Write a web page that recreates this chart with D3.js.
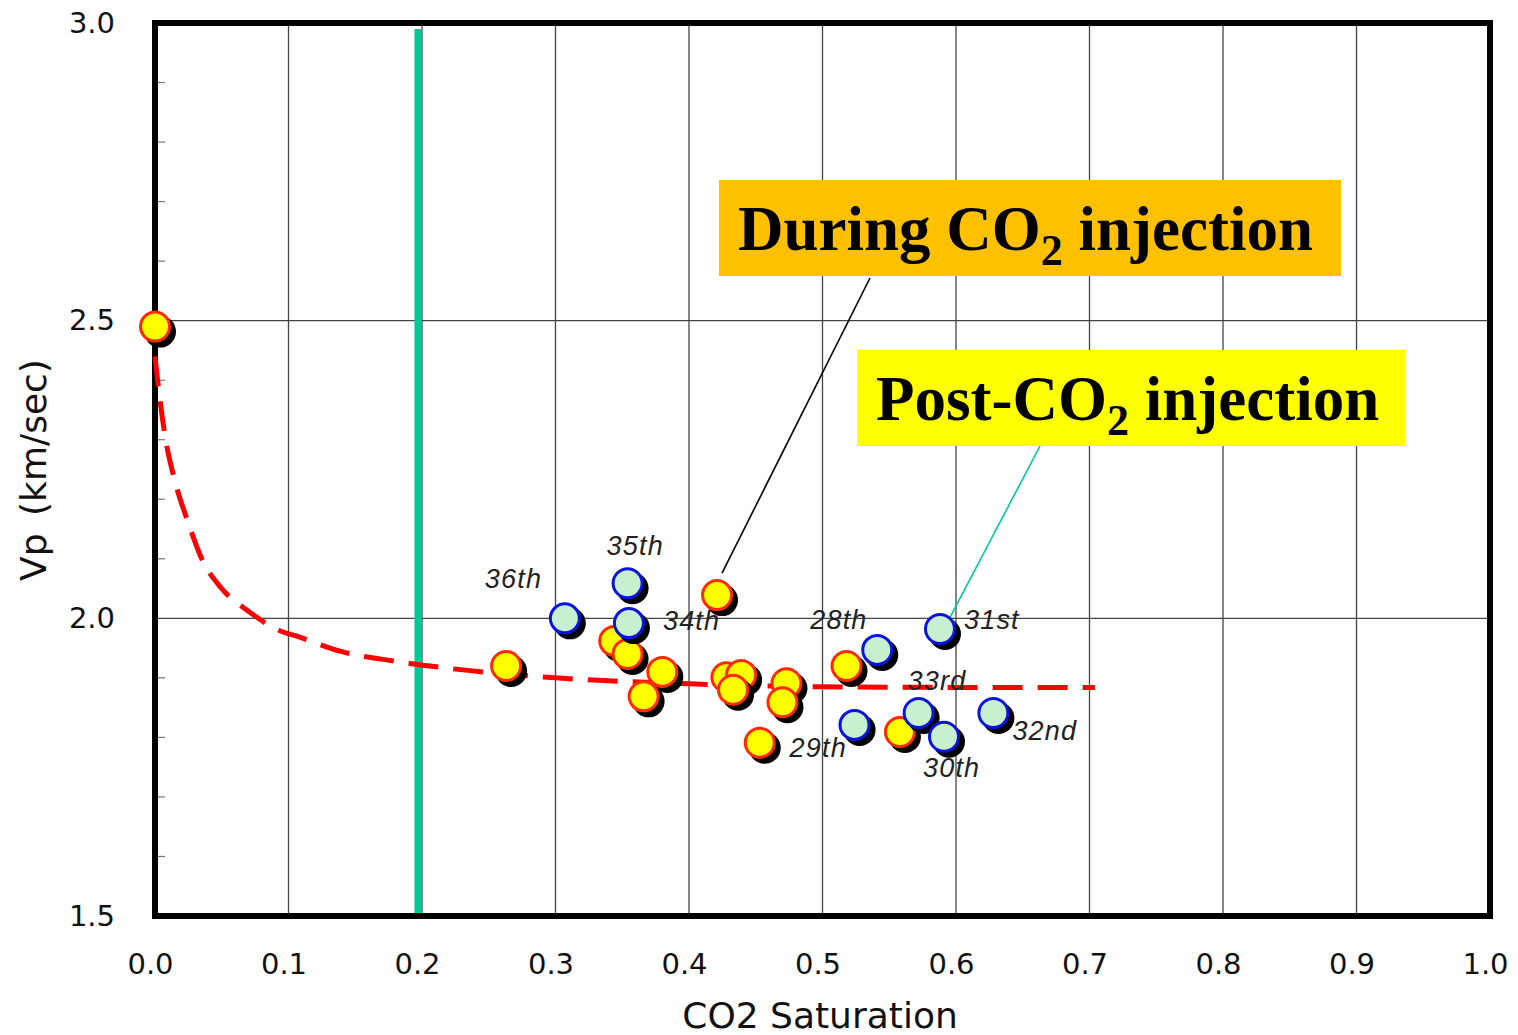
<!DOCTYPE html>
<html>
<head>
	<meta charset="utf-8">
	<title>Vp vs CO2 Saturation</title>
	<script type="text/javascript" src="https://cdn.jsdelivr.net/npm/d3@7/dist/d3.min.js"></script>
	<style>
		body { margin: 0; background: #fff; }
	</style>
</head>
<body>
	<script type="text/javascript">
		// data
		var xTicks = [0.0, 0.1, 0.2, 0.3, 0.4, 0.5, 0.6, 0.7, 0.8, 0.9, 1.0];
		var yTicks = [1.5, 2.0, 2.5, 3.0];
		var yMinor = [1.6, 1.7, 1.8, 1.9, 2.1, 2.2, 2.3, 2.4, 2.6, 2.7, 2.8, 2.9];

		// during CO2 injection (yellow)
		var duringS  = [0.000, 0.263, 0.421, 0.344, 0.354, 0.380, 0.366, 0.428, 0.439, 0.433, 0.473, 0.470, 0.453, 0.518, 0.558];
		var duringVp = [2.490, 1.920, 2.039, 1.962, 1.940, 1.910, 1.869, 1.901, 1.905, 1.880, 1.891, 1.859, 1.791, 1.920, 1.809];

		// post CO2 injection (blue), with survey labels
		var postLabels = ["36th", "35th", "34th", "28th", "31st", "33rd", "32nd", "29th", "30th"];
		var postS  = [0.307, 0.354, 0.355, 0.541, 0.588, 0.572, 0.628, 0.524, 0.591];
		var postVp = [2.000, 2.059, 1.992, 1.947, 1.982, 1.841, 1.841, 1.821, 1.801];

		// model curve (red dashed)
		var curveS  = [0.000, 0.003, 0.008, 0.015, 0.025, 0.035, 0.050, 0.070, 0.090, 0.110, 0.140, 0.180, 0.220, 0.300, 0.400, 0.500, 0.600, 0.704];
		var curveVp = [2.440, 2.380, 2.300, 2.230, 2.160, 2.100, 2.050, 2.012, 1.983, 1.967, 1.944, 1.928, 1.916, 1.900, 1.890, 1.885, 1.884, 1.884];

		var thresholdS = 0.197;

		var width = 1518, height = 1035;
		// plot box edges (window.top is reserved, so prefix them)
		var pLeft = 155, pRight = 1490, pTop = 23, pBottom = 916;

		var svg = d3.select("body").append("svg")
			.attr("width", width)
			.attr("height", height);

		var x = d3.scaleLinear().domain([0, 1]).range([pLeft, pRight]);
		var y = d3.scaleLinear().domain([1.5, 3.0]).range([pBottom, pTop]);

		// grid
		svg.append("g").selectAll("line")
			.data(xTicks.slice(1, -1))
			.enter().append("line")
			.attr("x1", function(d){ return x(d); })
			.attr("x2", function(d){ return x(d); })
			.attr("y1", pTop).attr("y2", pBottom)
			.attr("stroke", "#444").attr("stroke-width", 1.3);
		svg.append("g").selectAll("line")
			.data([2.0, 2.5])
			.enter().append("line")
			.attr("x1", pLeft).attr("x2", pRight)
			.attr("y1", function(d){ return y(d); })
			.attr("y2", function(d){ return y(d); })
			.attr("stroke", "#444").attr("stroke-width", 1.3);

		// minor ticks inside the left axis
		svg.append("g").selectAll("line")
			.data(yMinor)
			.enter().append("line")
			.attr("x1", pLeft).attr("x2", pLeft + 10)
			.attr("y1", function(d){ return y(d); })
			.attr("y2", function(d){ return y(d); })
			.attr("stroke", "#777").attr("stroke-width", 1.2);

		// green threshold line
		svg.append("line")
			.attr("x1", x(thresholdS)).attr("x2", x(thresholdS))
			.attr("y1", pTop + 6).attr("y2", pBottom)
			.attr("stroke", "#00c996").attr("stroke-width", 7);

		// frame
		svg.append("rect")
			.attr("x", pLeft).attr("y", pTop)
			.attr("width", pRight - pLeft).attr("height", pBottom - pTop)
			.attr("fill", "none").attr("stroke", "#000").attr("stroke-width", 6);

		// axes labels through d3 axes
		var xAxis = svg.append("g")
			.attr("transform", "translate(0," + pBottom + ")")
			.call(d3.axisBottom(x).tickValues(xTicks).tickFormat(d3.format(".1f")).tickSize(0).tickPadding(37));
		var yAxis = svg.append("g")
			.attr("transform", "translate(" + pLeft + ",0)")
			.call(d3.axisLeft(y).tickValues(yTicks).tickFormat(d3.format(".1f")).tickSize(0).tickPadding(40));
		[xAxis, yAxis].forEach(function(g){
			g.select(".domain").remove();
			g.selectAll("text")
				.attr("fill", "#111")
				.style("font-family", "DejaVu Sans")
				.style("font-size", "29px");
		});
		xAxis.selectAll("text").attr("dx", -5);

		svg.append("text")
			.attr("x", 820).attr("y", 1028)
			.attr("text-anchor", "middle")
			.style("font-family", "DejaVu Sans").style("font-size", "36px")
			.attr("fill", "#111")
			.text("CO2 Saturation");
		svg.append("text")
			.attr("transform", "translate(46,470) rotate(-90)")
			.attr("text-anchor", "middle")
			.style("font-family", "DejaVu Sans").style("font-size", "36px")
			.style("word-spacing", "6px")
			.attr("fill", "#111")
			.text("Vp (km/sec)");

		// red dashed curve
		var line = d3.line()
			.x(function(d){ return x(d[0]); })
			.y(function(d){ return y(d[1]); })
			.curve(d3.curveMonotoneX);
		svg.append("path")
			.datum(d3.zip(curveS, curveVp))
			.attr("d", line)
			.attr("fill", "none")
			.attr("stroke", "#ff0000")
			.attr("stroke-width", 5)
			.attr("stroke-dasharray", "30,15");

		// leader lines
		var during = d3.zip(duringS, duringVp);
		var post = d3.zip(postS, postVp);
		svg.append("line")
			.attr("x1", 870).attr("y1", 278)
			.attr("x2", x(during[2][0]) + 5).attr("y2", y(during[2][1]) - 22)
			.attr("stroke", "#000").attr("stroke-width", 1.6);
		svg.append("line")
			.attr("x1", 1040).attr("y1", 446)
			.attr("x2", x(post[4][0]) + 7).attr("y2", y(post[4][1]) - 6)
			.attr("stroke", "#00c8a0").attr("stroke-width", 1.6);

		// points: shadow then circle
		var r = 14.5;
		function drawPoints(data, fill, stroke){
			var g = svg.append("g").selectAll("g")
				.data(data)
				.enter().append("g");
			g.append("circle")
				.attr("cx", function(d){ return x(d[0]) + 5; })
				.attr("cy", function(d){ return y(d[1]) + 5; })
				.attr("r", r + 1.5)
				.attr("fill", "#000");
			g.append("circle")
				.attr("cx", function(d){ return x(d[0]); })
				.attr("cy", function(d){ return y(d[1]); })
				.attr("r", r)
				.attr("fill", fill)
				.attr("stroke", stroke)
				.attr("stroke-width", 3);
		}
		drawPoints(during, "#ffff00", "#ff2a00");
		drawPoints(post, "#c8f0cf", "#0a14e0");

		// survey labels, offset from their points
		var labelOffset = {
			"36th": [-80, -30], "35th": [-21, -28], "34th": [34, 7],
			"28th": [-67, -21], "31st": [24, 0], "33rd": [-11, -23],
			"32nd": [19, 27], "29th": [-65, 32], "30th": [-21, 40]
		};
		svg.append("g").selectAll("text")
			.data(postLabels)
			.enter().append("text")
			.attr("x", function(d, i){ return x(postS[i]) + labelOffset[d][0]; })
			.attr("y", function(d, i){ return y(postVp[i]) + labelOffset[d][1]; })
			.style("font-family", "Liberation Sans")
			.style("font-style", "italic")
			.style("font-size", "27px")
			.style("letter-spacing", "1.2px")
			.attr("fill", "#222")
			.text(function(d){ return d; });

		// annotation boxes
		function note(bx, by, bw, bh, color, tx, ty, before){
			svg.append("rect")
				.attr("x", bx).attr("y", by).attr("width", bw).attr("height", bh)
				.attr("fill", color);
			var t = svg.append("text")
				.attr("x", tx).attr("y", ty)
				.style("font-family", "Liberation Serif")
				.style("font-weight", "bold")
				.style("font-size", "63px")
				.attr("fill", "#000");
			t.append("tspan").text(before + "CO");
			t.append("tspan").attr("dy", 15).style("font-size", "44px").text("2");
			t.append("tspan").attr("dy", -15).text(" injection");
		}
		note(719, 180, 622, 96, "#ffc000", 738, 250, "During ");
		note(857, 350, 548, 96, "#ffff00", 876, 420, "Post-");
	</script>
</body>
</html>
